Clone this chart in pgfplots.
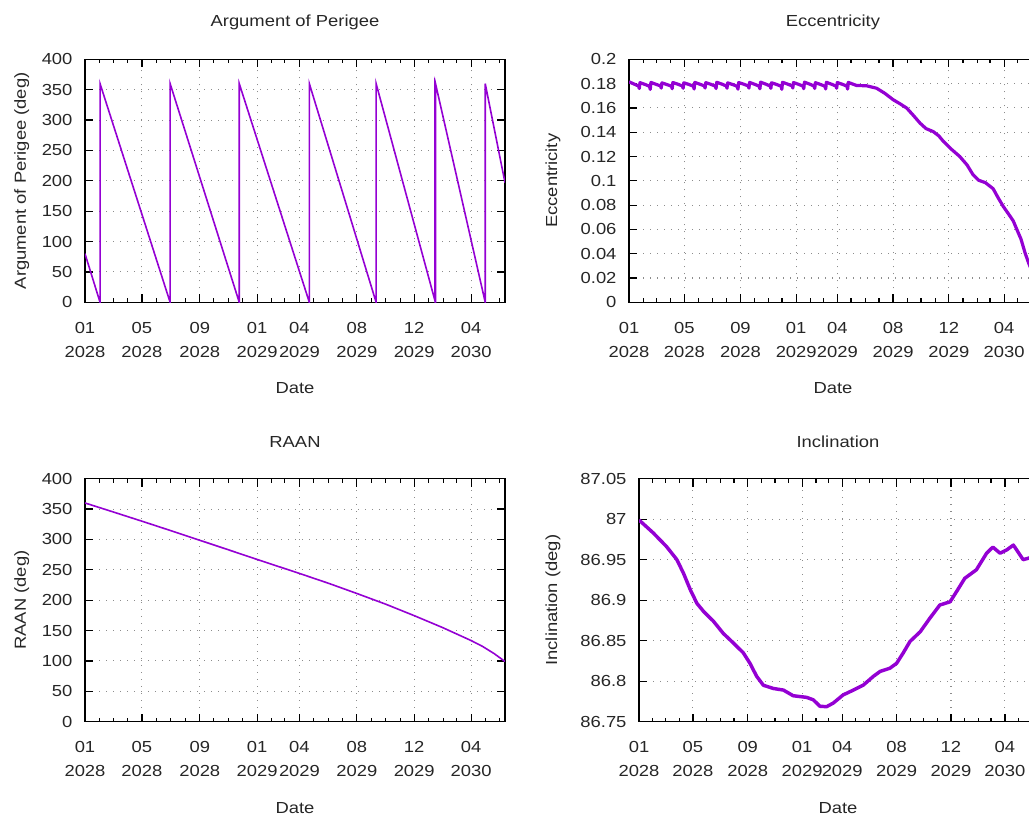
\documentclass[border=0pt]{standalone}
\usepackage{fontspec}
\setmainfont{Liberation Sans}[FakeStretch=1.15]
\usepackage{pgfplots}
\pgfplotsset{compat=1.18}
\definecolor{gpviolet}{RGB}{148,0,211}
\pgfplotsset{
  every axis title shift=0pt,
  gp/.style={
    scale only axis,
    height=182.25pt,
    xmin=0, xmax=893,
    xtick={0,121,244,366,456,578,700,821},
    xticklabels={{01\\2028},{05\\2028},{09\\2028},{01\\2029},{04\\2029},{08\\2029},{12\\2029},{04\\2030}},
    minor xtick={31,60,91,152,182,213,274,305,335,397,425,486,517,547,609,639,670,731,762,790,851,882},
    tick align=inside,
    major tick length=6pt,
    minor tick length=3pt,
    xtick pos=both, ytick pos=both,
    xticklabel pos=lower, yticklabel pos=left,
    xmajorgrids, ymajorgrids,
    grid style={black!45, line width=0.8pt, dash pattern=on 0.75pt off 4.5pt},
    axis line style={line width=0.9pt, black},
    every tick/.style={black, line width=0.9pt},
    scaled ticks=false,
    tick label style={font=\fontsize{12}{18.2}\selectfont, text=black!85},
    xticklabel style={anchor=north, align=center, inner sep=0pt, yshift=-14.5pt},
    yticklabel style={anchor=east, inner sep=0pt, xshift=-9.2pt},
    title style={font=\fontsize{12}{14}\selectfont, text=black!85, anchor=center, at={(axis description cs:0.5,1.1506)}},
    xlabel style={font=\fontsize{12}{14}\selectfont, text=black!85, anchor=center, at={(axis description cs:0.5,-0.3539)}},
    ylabel style={font=\fontsize{12}{14}\selectfont, text=black!85, anchor=center, rotate=0},
    xlabel={Date},
    clip=true,
  }
}
\begin{document}
\begin{tikzpicture}
\path[use as bounding box] (0,0) rectangle (771.75pt,612.75pt);

% Argument of Perigee
\begin{axis}[gp, at={(63.75pt,386.0pt)}, anchor=south west, width=315pt,
  ymin=0, ymax=400, ytick={0,50,...,400},
  yticklabels={0,50,100,150,200,250,300,350,400},
  title={Argument of Perigee}, ylabel={Argument of Perigee (deg)},
  ylabel style={at={(axis description cs:-0.1507,0.5)}}]
\addplot[gpviolet, line width=1.2pt] coordinates {
(0,80) (32,0) (32,360) (181,0) (181,360) (328,0) (328,360) (477,0) (477,360)
(619,0) (619,360) (744,3) (744,360) (744.7,358) (744.7,0) (745.3,0) (745.3,360)
(851,0) (851,360) (893,197)};
\end{axis}

% Eccentricity
\begin{axis}[gp, at={(471.75pt,386.0pt)}, anchor=south west, width=306pt,
  ymin=0, ymax=0.2, ytick={0,0.02,0.04,0.06,0.08,0.1,0.12,0.14,0.16,0.18,0.2},
  yticklabels={0,0.02,0.04,0.06,0.08,0.1,0.12,0.14,0.16,0.18,0.2},
  title={Eccentricity}, ylabel={Eccentricity},
  ylabel style={at={(axis description cs:-0.1863,0.5)}}]
\addplot[gpviolet, line width=2.4pt, line join=round] coordinates {
(0,0.1815) (12,0.1795) (21,0.1780) (22.5,0.1760) (24,0.1808)
(36,0.1792) (45,0.1778) (46.5,0.1752) (48,0.1810)
(60,0.1793) (69,0.1781) (70.5,0.1763) (72,0.1806)
(84,0.1791) (93,0.1779) (94.5,0.1758) (96,0.1809)
(108,0.1794) (117,0.1780) (118.5,0.1762) (120,0.1807)
(132,0.1792) (141,0.1778) (142.5,0.1756) (144,0.1810)
(156,0.1794) (165,0.1781) (166.5,0.1764) (168,0.1808)
(180,0.1793) (189,0.1779) (190.5,0.1760) (192,0.1811)
(204,0.1795) (213,0.1780) (214.5,0.1762) (216,0.1806)
(228,0.1791) (237,0.1777) (238.5,0.1754) (240,0.1809)
(252,0.1794) (261,0.1781) (262.5,0.1763) (264,0.1810)
(276,0.1793) (285,0.1779) (286.5,0.1757) (288,0.1812)
(300,0.1795) (309,0.1780) (310.5,0.1761) (312,0.1807)
(324,0.1792) (333,0.1778) (334.5,0.1753) (336,0.1811)
(348,0.1795) (357,0.1781) (358.5,0.1764) (360,0.1809)
(372,0.1793) (381,0.1779) (382.5,0.1758) (384,0.1812)
(396,0.1795) (405,0.1780) (406.5,0.1760) (408,0.1808)
(420,0.1792) (429,0.1778) (430.5,0.1756) (432,0.1811)
(444,0.1794) (453,0.1780) (454.5,0.1762) (456,0.1809)
(468,0.1793) (477,0.1779) (478.5,0.1755) (480,0.1810)
(492,0.1793) (498,0.1785) (520,0.1782) (542,0.1762) (560,0.1720)
(578,0.1668) (595,0.1630) (608,0.1598) (622,0.1540) (637,0.1475)
(650,0.1430) (666,0.1405) (678,0.1370) (688,0.1325) (705,0.1262)
(724,0.1200) (740,0.1130) (753,0.1050) (765,0.1005) (780,0.0985)
(797,0.0935) (808,0.0860) (819,0.0790) (832,0.0720) (841,0.0670)
(850,0.0590) (858,0.0520) (867,0.0405) (875,0.0320) (885,0.0230) (893,0.0150)};
\end{axis}

% RAAN
\begin{axis}[gp, at={(63.75pt,71.5pt)}, anchor=south west, width=315pt,
  ymin=0, ymax=400, ytick={0,50,...,400},
  yticklabels={0,50,100,150,200,250,300,350,400},
  title={RAAN}, ylabel={RAAN (deg)},
  ylabel style={at={(axis description cs:-0.1507,0.5)}}]
\addplot[gpviolet, line width=1.2pt, line join=round] coordinates {
(0,360) (60,345.2) (121,330) (183,314.3) (244,298.6) (305,282.9) (366,267)
(411,255.5) (456,244) (517,228) (578,211) (640,193.2) (700,174.5) (760,155)
(821,133.5) (845,124) (870,112) (893,99)};
\end{axis}

% Inclination
\begin{axis}[gp, at={(479.25pt,71.5pt)}, anchor=south west, width=298.5pt,
  ymin=86.75, ymax=87.05, ytick={86.75,86.8,86.85,86.9,86.95,87,87.05},
  yticklabels={86.75,86.8,86.85,86.9,86.95,87,87.05},
  title={Inclination}, ylabel={Inclination (deg)},
  ylabel style={at={(axis description cs:-0.2161,0.5)}}]
\addplot[gpviolet, line width=2.6pt, line join=round] coordinates {
(0,86.999) (32,86.983) (62,86.966) (85,86.950) (100,86.933) (115,86.913)
(130,86.896) (145,86.886) (167,86.874) (189,86.859) (212,86.847) (234,86.835)
(249,86.822) (264,86.806) (279,86.795) (301,86.791) (324,86.789) (346,86.782)
(376,86.780) (391,86.777) (406,86.769) (421,86.7685) (436,86.773) (458,86.783)
(481,86.789) (503,86.795) (526,86.806) (541,86.812) (563,86.816) (578,86.822)
(593,86.835) (608,86.849) (631,86.861) (653,86.878) (675,86.894) (698,86.898)
(713,86.911) (731,86.927) (757,86.9375) (780,86.958) (794,86.9655) (810,86.958)
(825,86.962) (840,86.968) (862,86.950) (875,86.952) (893,86.955)};
\end{axis}
\end{tikzpicture}
\end{document}
